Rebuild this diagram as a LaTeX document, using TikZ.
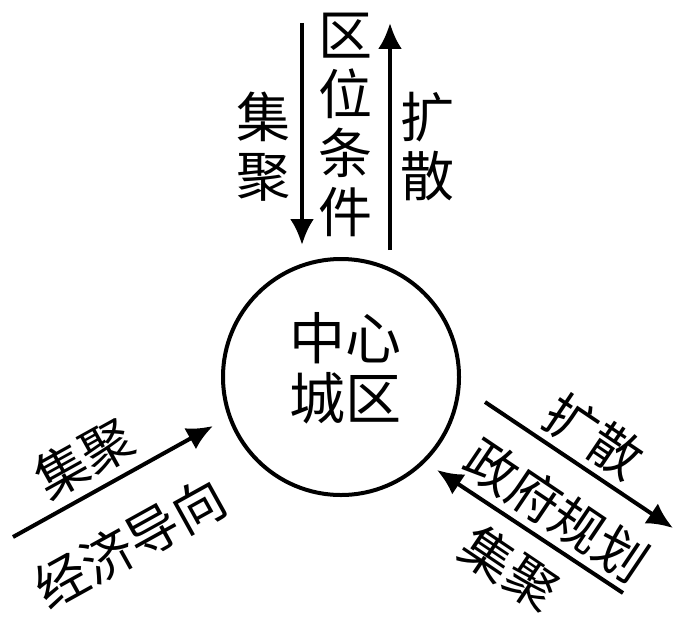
\documentclass[tikz,border=0pt]{standalone}
\usepackage{fontspec}
\setmainfont{Noto Sans CJK SC}
\usetikzlibrary{arrows.meta}
\begin{document}
\begin{tikzpicture}[x=1pt,y=-1pt,
  lbl/.style={font=\fontsize{52}{58}\selectfont, align=center, inner sep=0pt},
  clbl/.style={font=\fontsize{56}{60}\selectfont, align=center, inner sep=0pt},
  vlbl/.style={font=\fontsize{54}{59}\selectfont, align=center, inner sep=0pt},
  arr/.style={line width=4pt, -{Latex[length=26pt,width=24pt]}}]
\useasboundingbox (0,0) rectangle (690,626);
% centre
\node[draw, circle, line width=4pt, minimum size=236pt, inner sep=0pt] (c) at (341,377) {};
\node[clbl] (ct) at (345,368) {中心\\城区};
% top
\node[vlbl] (qw) at (345,125) {区\\位\\条\\件};
\node[vlbl] (jj1) at (263,147) {集\\聚};
\node[vlbl] (ks1) at (427,147) {扩\\散};
\coordinate (d1s) at (302,23);
\coordinate (d1e) at (302,245);
\coordinate (u1s) at (390,250);
\coordinate (u1e) at (390,23);
\draw[arr] (d1s) -- (d1e);
\draw[arr] (u1s) -- (u1e);
% lower left
\coordinate (lls) at (13,537);
\coordinate (lle) at (213,426);
\draw[arr] (lls) -- (lle);
\node[lbl, rotate=29] (jj2) at (84,458) {集聚};
\node[lbl, rotate=29] (jd) at (130,543) {经济导向};
% lower right
\coordinate (r1s) at (485,402);
\coordinate (r1e) at (673,528);
\coordinate (r2s) at (623,593);
\coordinate (r2e) at (437,470);
\draw[arr] (r1s) -- (r1e);
\draw[arr] (r2s) -- (r2e);
\node[lbl, rotate=-34] (ks2) at (594,436) {扩散};
\node[lbl, rotate=-34] (zf) at (557,510) {政府规划};
\node[lbl, rotate=-34] (jj3) at (510,568) {集聚};
\end{tikzpicture}
\end{document}
